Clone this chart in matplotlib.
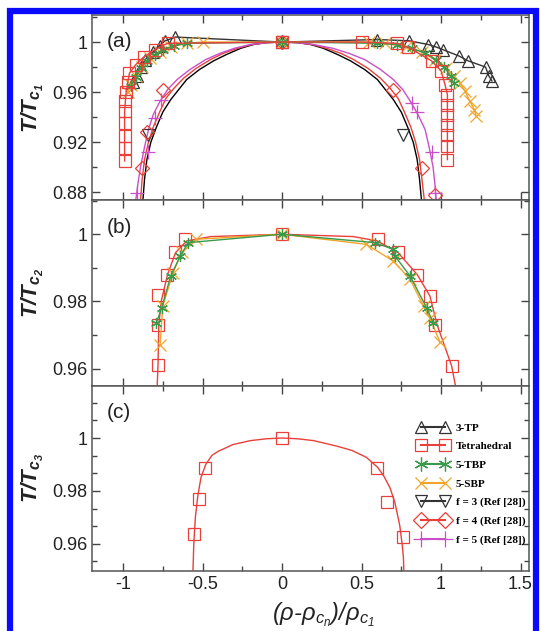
import matplotlib
matplotlib.use("Agg")
import matplotlib.pyplot as plt
from matplotlib.lines import Line2D
from matplotlib.patches import Rectangle
from matplotlib.ticker import MultipleLocator

plt.rcParams['font.family'] = ['Liberation Sans', 'DejaVu Sans']
plt.rcParams['mathtext.default'] = 'regular'

# ---- panel (a): first critical point ----
tp3_a_x = [-0.935, -0.914, -0.89, -0.86, -0.81, -0.77, -0.736, -0.67, 0.0,
           0.6, 0.8, 0.92, 0.97, 1.01, 1.11, 1.17, 1.28, 1.30, 1.32]
tp3_a_y = [0.968, 0.973, 0.98, 0.986, 0.992, 0.997, 1.001, 1.004, 1.0,
           1.002, 1.001, 0.998, 0.996, 0.994, 0.989, 0.985, 0.98, 0.973, 0.969]

tet_a_x = [-0.99, -0.99, -0.99, -0.99, -0.99, -0.985, -0.98, -0.97, -0.96, -0.92,
           -0.87, -0.8, -0.72, 0.0, 0.5, 0.72, 0.79, 0.94, 1.0, 1.025,
           1.04, 1.04, 1.04, 1.04, 1.04, 1.04, 1.04]
tet_a_y = [0.905, 0.915, 0.925, 0.935, 0.945, 0.953, 0.96, 0.968, 0.975, 0.982,
           0.988, 0.994, 0.999, 1.0, 1.0, 0.999, 0.996, 0.985, 0.977, 0.966,
           0.958, 0.950, 0.942, 0.934, 0.926, 0.917, 0.906]

tbp_a_x = [-0.95, -0.92, -0.89, -0.85, -0.8, -0.75, -0.68, -0.6, 0.0,
           0.6, 0.72, 0.82, 0.9, 0.97, 1.02, 1.06, 1.08]
tbp_a_y = [0.965, 0.972, 0.979, 0.985, 0.99, 0.994, 0.997, 0.999, 1.0,
           0.999, 0.998, 0.995, 0.991, 0.986, 0.98, 0.973, 0.967]

sbp_a_x = [-0.97, -0.95, -0.92, -0.88, -0.83, -0.77, -0.7, -0.6, -0.5, 0.0,
           0.55, 0.65, 0.78, 0.88, 0.96, 1.03, 1.08, 1.12, 1.15, 1.18, 1.21, 1.22]
sbp_a_y = [0.96, 0.966, 0.973, 0.98, 0.987, 0.992, 0.996, 0.999, 1.0, 1.0,
           1.0, 0.999, 0.996, 0.992, 0.986, 0.979, 0.973, 0.967, 0.961, 0.953, 0.946, 0.941]

# Ref [28] data points and their fitted curves
f3_x = [-0.84, 0.0, 0.76]
f3_y = [0.926, 1.0, 0.926]
f3_cx = [-0.875, -0.865, -0.85, -0.825, -0.79, -0.75, -0.70, -0.65, -0.6, -0.52,
         -0.43, -0.35, -0.26, -0.18, -0.1, 0.0,
         0.1, 0.18, 0.26, 0.35, 0.43, 0.52, 0.6, 0.65, 0.70, 0.75, 0.79, 0.825,
         0.85, 0.865, 0.877]
f3_cy = [0.8735, 0.89, 0.906, 0.92, 0.932, 0.944, 0.954, 0.962, 0.97, 0.978,
         0.985, 0.99, 0.995, 0.998, 0.9995, 1.0,
         0.9995, 0.998, 0.995, 0.99, 0.985, 0.978, 0.97, 0.962, 0.954, 0.944, 0.932, 0.92,
         0.906, 0.89, 0.8735]

f4_x = [-0.88, -0.85, -0.75, 0.0, 0.70, 0.88, 0.96]
f4_y = [0.899, 0.928, 0.962, 1.0, 0.962, 0.899, 0.878]
f4_cx = [-0.89, -0.88, -0.865, -0.84, -0.81, -0.77, -0.73, -0.68, -0.62, -0.54,
         -0.45, -0.37, -0.28, -0.19, -0.1, 0.0,
         0.1, 0.19, 0.28, 0.37, 0.45, 0.54, 0.62, 0.68, 0.73, 0.77, 0.81, 0.84,
         0.865, 0.88, 0.895]
f4_cy = [0.8735, 0.89, 0.906, 0.92, 0.932, 0.944, 0.955, 0.963, 0.971, 0.979,
         0.986, 0.991, 0.995, 0.998, 0.9995, 1.0,
         0.9995, 0.998, 0.995, 0.991, 0.986, 0.979, 0.971, 0.963, 0.955, 0.944, 0.932, 0.92,
         0.906, 0.89, 0.8735]

f5_x = [-0.91, -0.84, -0.80, -0.76, 0.0, 0.82, 0.85, 0.94, 0.96]
f5_y = [0.879, 0.912, 0.939, 0.954, 1.0, 0.951, 0.944, 0.912, 0.879]
f5_cx = [-0.92, -0.905, -0.89, -0.865, -0.84, -0.81, -0.77, -0.72, -0.66, -0.58,
         -0.48, -0.39, -0.3, -0.2, -0.1, 0.0,
         0.1, 0.2, 0.32, 0.42, 0.52, 0.62, 0.7, 0.76, 0.81, 0.855, 0.9, 0.925,
         0.95, 0.96, 0.97]
f5_cy = [0.8735, 0.888, 0.9, 0.916, 0.93, 0.942, 0.952, 0.962, 0.97, 0.978,
         0.986, 0.991, 0.995, 0.998, 0.9995, 1.0,
         0.9995, 0.998, 0.995, 0.991, 0.986, 0.978, 0.97, 0.962, 0.952, 0.942, 0.93, 0.916,
         0.9, 0.888, 0.8735]

# ---- panel (b): second critical point ----
tet_b_x = [-0.78, -0.78, -0.78, -0.725, -0.67, -0.61, 0.0,
           0.605, 0.73, 0.847, 0.93, 0.962, 1.067]
tet_b_y = [0.9612, 0.9729, 0.982, 0.988, 0.9946, 0.9985, 1.0,
           0.9985, 0.9946, 0.988, 0.9816, 0.9731, 0.9607]
tet_b_cx = [-0.785, -0.78, -0.775, -0.76, -0.72, -0.67, -0.6, -0.45, 0.0,
            0.45, 0.6, 0.73, 0.85, 0.93, 0.975, 1.067, 1.09]
tet_b_cy = [0.955, 0.961, 0.973, 0.98, 0.988, 0.9945, 0.998, 0.9993, 1.0,
            0.9993, 0.998, 0.9945, 0.988, 0.9816, 0.9731, 0.9607, 0.955]

tbp_b_x = [-0.79, -0.757, -0.70, -0.64, -0.59, 0.0, 0.585, 0.70, 0.71, 0.805, 0.91, 0.95]
tbp_b_y = [0.9737, 0.978, 0.9876, 0.9935, 0.9975, 1.0, 0.9975, 0.9955, 0.9935, 0.9876, 0.978, 0.9737]

sbp_b_x = [-0.767, -0.75, -0.685, -0.63, -0.54, 0.0, 0.53, 0.70, 0.805, 0.89, 0.93, 0.994]
sbp_b_y = [0.967, 0.9786, 0.9886, 0.9946, 0.9985, 1.0, 0.997, 0.992, 0.9866, 0.9786, 0.975, 0.9678]

# ---- panel (c): third critical point ----
tet_c_x = [-0.553, -0.522, -0.484, 0.0, 0.6, 0.662, 0.763]
tet_c_y = [0.9636, 0.9769, 0.9888, 1.0, 0.9888, 0.9757, 0.9624]
tet_c_cx = [-0.56, -0.555, -0.545, -0.53, -0.51, -0.48, -0.44, -0.4, -0.31, -0.2, -0.1, 0.0,
            0.1, 0.2, 0.34, 0.44, 0.53, 0.6, 0.64, 0.68, 0.71, 0.74, 0.755, 0.763, 0.766]
tet_c_cy = [0.95, 0.96, 0.97, 0.978, 0.985, 0.99, 0.9935, 0.995, 0.9975, 0.999, 0.9997, 1.0,
            0.9997, 0.999, 0.997, 0.9953, 0.9927, 0.989, 0.9856, 0.981, 0.9755, 0.967, 0.96, 0.955, 0.95]

black = '#333333'
red = '#e8403a'
green = '#3a9a4a'
orange = '#f2a52a'
magenta = '#c84fc8'
mew = 0.9

fig = plt.figure(figsize=(5.4, 6.31), dpi=100)
gs = fig.add_gridspec(3, 1, left=0.1704, right=0.9796, top=0.9762, bottom=0.0951, hspace=0)
ax_a = fig.add_subplot(gs[0])
ax_b = fig.add_subplot(gs[1], sharex=ax_a)
ax_c = fig.add_subplot(gs[2], sharex=ax_a)

def series(ax, x, y, color, marker, size, line=True):
    ax.plot(x, y, color=color, lw=1.0 if line else 0, marker=marker, ms=size,
            mfc='none', mec=color, mew=mew)

# panel (a)
ax_a.plot(f3_cx, f3_cy, color='black', lw=1.0)
ax_a.plot(f4_cx, f4_cy, color=red, lw=1.0)
ax_a.plot(f5_cx, f5_cy, color=magenta, lw=1.0)
series(ax_a, f3_x, f3_y, black, 'v', 8, line=False)
series(ax_a, f4_x, f4_y, red, 'D', 7, line=False)
series(ax_a, f5_x, f5_y, magenta, '+', 10, line=False)
series(ax_a, tp3_a_x, tp3_a_y, black, '^', 8)
series(ax_a, sbp_a_x, sbp_a_y, orange, 'x', 8)
series(ax_a, tbp_a_x, tbp_a_y, green, (6, 2, 0), 8)
series(ax_a, tet_a_x, tet_a_y, red, 's', 8.5)

# panel (b)
ax_b.plot(tet_b_cx, tet_b_cy, color=red, lw=1.0)
series(ax_b, tet_b_x, tet_b_y, red, 's', 9, line=False)
series(ax_b, sbp_b_x, sbp_b_y, orange, 'x', 8)
series(ax_b, tbp_b_x, tbp_b_y, green, (6, 2, 0), 8)

# panel (c)
ax_c.plot(tet_c_cx, tet_c_cy, color=red, lw=1.0)
series(ax_c, tet_c_x, tet_c_y, red, 's', 9, line=False)

handles = [
    Line2D([], [], color=black, marker='^', ms=9, mfc='none', mew=mew, label='3-TP'),
    Line2D([], [], color=red, marker='s', ms=9, mfc='none', mew=mew, label='Tetrahedral'),
    Line2D([], [], color=green, marker=(6, 2, 0), ms=10, mfc='none', mew=mew, label='5-TBP'),
    Line2D([], [], color=orange, marker='x', ms=9, mfc='none', mew=mew, label='5-SBP'),
    Line2D([], [], color=black, marker='v', ms=9, mfc='none', mew=mew, label='f = 3 (Ref [28])'),
    Line2D([], [], color=red, marker='D', ms=8, mfc='none', mew=mew, label='f = 4 (Ref [28])'),
    Line2D([], [], color=magenta, marker='+', ms=11, mfc='none', mew=mew, label='f = 5 (Ref [28])'),
]
ax_c.legend(handles=handles, loc='upper left', bbox_to_anchor=(0.745, 0.80), numpoints=2,
            frameon=False, handlelength=2.75, handletextpad=0.7, labelspacing=0.8,
            borderpad=0, borderaxespad=0,
            prop={'family': 'Liberation Serif', 'weight': 'bold', 'size': 8})

ax_a.set_ylim(0.8735, 1.0216)
ax_b.set_ylim(0.9549, 1.0101)
ax_c.set_ylim(0.9497, 1.0198)
ax_a.set_xlim(-1.195, 1.553)

ax_a.yaxis.set_major_locator(MultipleLocator(0.04))
ax_a.yaxis.set_minor_locator(MultipleLocator(0.02))
ax_b.yaxis.set_major_locator(MultipleLocator(0.02))
ax_b.yaxis.set_minor_locator(MultipleLocator(0.01))
ax_c.yaxis.set_major_locator(MultipleLocator(0.02))
ax_c.yaxis.set_minor_locator(MultipleLocator(0.02 / 3))
ax_c.xaxis.set_major_locator(MultipleLocator(0.5))
ax_c.xaxis.set_minor_locator(MultipleLocator(0.25))

for ax in (ax_a, ax_b, ax_c):
    ax.tick_params(which='both', direction='in', top=True, right=True, colors='#444444',
                   labelcolor='#222222', labelsize=13)
    ax.tick_params(which='major', length=6, width=1)
    ax.tick_params(which='minor', length=3.5, width=1)
    for s in ax.spines.values():
        s.set_color('#555555')
        s.set_linewidth(1.1)
    ax.yaxis.set_major_formatter(plt.FuncFormatter(lambda v, p: '1' if abs(v - 1) < 1e-9 else f'{v:.2f}'))
for ax in (ax_a, ax_b):
    ax.tick_params(labelbottom=False)
ax_c.xaxis.set_major_formatter(plt.FuncFormatter(lambda v, p: '0' if abs(v) < 1e-9 else f'{v:g}'))

for ax, lab, n in ((ax_a, '(a)', 1), (ax_b, '(b)', 2), (ax_c, '(c)', 3)):
    ax.text(0.034, 0.855, lab, transform=ax.transAxes, fontsize=15, va='center', ha='left',
            color='#222222')
    ax.set_ylabel('T/T$_{c_%d}$' % n, fontsize=16, fontweight='bold', style='italic',
                  labelpad=4, color='#222222')

ax_c.set_xlabel(r'($\rho$-$\rho_{c_n}$)/$\rho_{c_1}$', fontsize=17, style='italic',
                labelpad=3, color='#222222')
ax_c.xaxis.set_label_coords(0.53, -0.16)
fig.align_ylabels([ax_a, ax_b, ax_c])

# blue frame around the figure
fig.patches.append(Rectangle((0.0185, -0.05), 0.974, 1.0326, transform=fig.transFigure,
                             fill=False, edgecolor='#0a0aff', lw=4.5, zorder=10))

fig.savefig('out.png', dpi=100)
